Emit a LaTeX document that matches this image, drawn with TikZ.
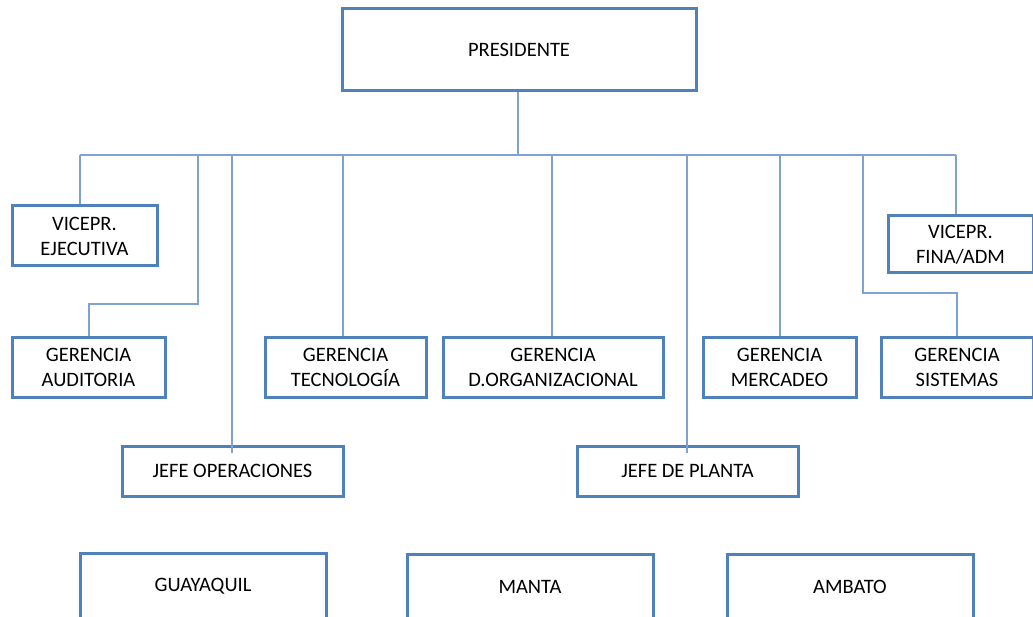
\documentclass[tikz,border=0pt]{standalone}
\usepackage{fontspec}
\setmainfont{Carlito}
\definecolor{boxblue}{HTML}{4F81BD}
\definecolor{lineblue}{HTML}{7EA3D3}
\begin{document}
\begin{tikzpicture}[x=1pt,y=-1pt,
  box/.style={draw=boxblue,line width=3pt,fill=white,inner sep=0pt,align=center,
    font=\fontsize{20.5}{25}\selectfont},
  conn/.style={draw=lineblue,line width=2pt}]
\useasboundingbox (0,0) rectangle (1033,617);
% nodes
\node[box,minimum width=354pt,minimum height=82pt] (pres) at (519,50) {PRESIDENTE};
\node[box,minimum width=145pt,minimum height=60pt] (vej) at (84.5,236) {VICEPR.\\EJECUTIVA};
\node[box,minimum width=145pt,minimum height=57pt] (vfa) at (960.5,244.5) {VICEPR.\\FINA/ADM};
\node[box,minimum width=153pt,minimum height=60pt] (gaud) at (88.5,367.5) {GERENCIA\\AUDITORIA};
\node[box,minimum width=161pt,minimum height=60pt] (gtec) at (345.5,367.5) {GERENCIA\\TECNOLOGÍA};
\node[box,minimum width=220pt,minimum height=60pt] (gdo) at (553,367.5) {GERENCIA\\D.ORGANIZACIONAL};
\node[box,minimum width=153pt,minimum height=60pt] (gmer) at (779.5,367.5) {GERENCIA\\MERCADEO};
\node[box,minimum width=152pt,minimum height=60pt] (gsis) at (957,367.5) {GERENCIA\\SISTEMAS};
\node[box,minimum width=221pt,minimum height=50pt] (jop) at (232.5,471) {JEFE OPERACIONES};
\node[box,minimum width=221pt,minimum height=50pt] (jpl) at (687.5,471) {JEFE DE PLANTA};
\node[box,minimum width=246pt,minimum height=66pt] (guay) at (203,586) {GUAYAQUIL};
\node[box,minimum width=246pt,minimum height=66pt] (manta) at (530,587) {MANTA};
\node[box,minimum width=246pt,minimum height=66pt] (ambato) at (850,587) {AMBATO};
% bus coordinates
\coordinate (bus) at (518,155.5);
\coordinate (bL) at (80,155.5);
\coordinate (bR) at (956,155.5);
\coordinate (bAud) at (198,155.5);
\coordinate (bJop) at (232,155.5);
\coordinate (bTec) at (343,155.5);
\coordinate (bDO) at (552,155.5);
\coordinate (bJpl) at (687,155.5);
\coordinate (bMer) at (780,155.5);
\coordinate (bSis) at (863,155.5);
% connectors
\draw[conn] (pres.south -| bus) -- (bus);
\draw[conn] (bL) -- (bR);
\draw[conn] (bL) -- (bL |- vej.north);
\draw[conn] (bR) -- (bR |- vfa.north);
\draw[conn] (bAud) -- (198,304) -| (gaud.north);
\draw[conn] (bJop) -- ([yshift=-8pt]bJop |- jop.north);
\draw[conn] (bTec) -- (bTec |- gtec.north);
\draw[conn] (bDO) -- (bDO |- gdo.north);
\draw[conn] (bJpl) -- ([yshift=-8pt]bJpl |- jpl.north);
\draw[conn] (bMer) -- (bMer |- gmer.north);
\draw[conn] (bSis) -- (863,293) -| (gsis.north);
\end{tikzpicture}
\end{document}
